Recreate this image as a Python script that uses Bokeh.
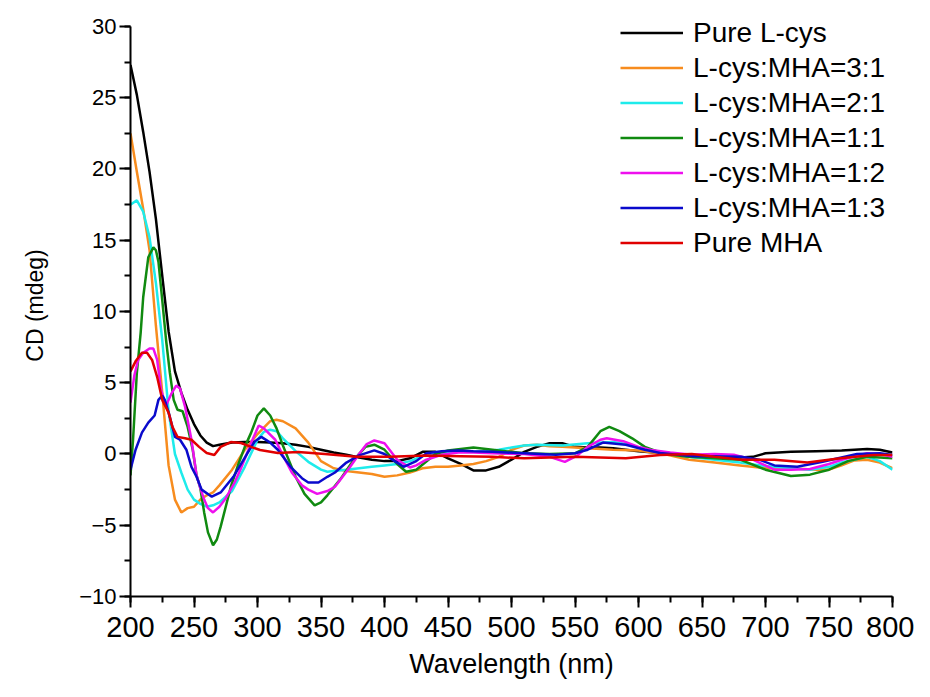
from bokeh.plotting import figure
from bokeh.models import SingleIntervalTicker, Range1d, Legend, LegendItem
from bokeh.embed import file_html
from bokeh.resources import INLINE

FONT = "'Liberation Sans', Arial, sans-serif"

# ---- data: (wavelength nm, CD mdeg) ----
pure_lcys = [(200,27.3),(205,25.2),(210,22.6),(215,19.8),(220,16.5),(225,12.5),(230,8.6),(235,5.8),
             (240,4.3),(245,3.1),(250,2.1),(255,1.3),(260,0.8),(265,0.55),(270,0.65),(280,0.8),(290,0.85),
             (300,0.85),(310,0.8),(320,0.75),(330,0.65),(340,0.5),(350,0.3),(360,0.1),(370,-0.05),(380,-0.25),
             (390,-0.4),(400,-0.5),(410,-0.5),(420,-0.3),(430,0.15),(440,0.15),(450,-0.3),(460,-0.7),(470,-1.15),
             (480,-1.15),(490,-0.9),(500,-0.4),(510,0.15),(520,0.5),(530,0.75),(540,0.75),(550,0.5),(560,0.45),
             (570,0.45),(580,0.4),(590,0.3),(600,0.2),(620,0.05),(640,-0.2),(660,-0.25),(680,-0.25),(690,-0.2),
             (700,0.05),(720,0.15),(740,0.2),(760,0.25),(780,0.35),(790,0.3),(800,0.1)]

ratio_3_1 = [(200,22.5),(205,19.8),(210,17.2),(215,14.3),(220,9.0),(225,4.3),(230,-0.8),(235,-3.2),(240,-4.1),
             (245,-3.8),(250,-3.7),(255,-3.2),(260,-2.9),(265,-2.7),(270,-2.2),(280,-1.1),(290,0.3),(300,1.4),
             (310,2.3),(315,2.4),(320,2.3),(330,1.8),(340,0.8),(350,-0.5),(360,-1.0),(370,-1.2),(380,-1.3),
             (390,-1.4),(400,-1.6),(410,-1.5),(420,-1.3),(430,-1.0),(440,-0.9),(450,-0.9),(460,-0.8),(470,-0.7),
             (480,-0.5),(490,-0.2),(500,0.3),(510,0.6),(520,0.65),(530,0.55),(540,0.5),(560,0.4),(580,0.3),
             (600,0.25),(620,0.0),(640,-0.4),(660,-0.6),(680,-0.8),(700,-1.0),(720,-1.0),(740,-1.1),(750,-1.1),
             (760,-0.8),(770,-0.45),(780,-0.4),(790,-0.6),(800,-1.0)]

ratio_2_1 = [(200,17.5),(205,17.8),(210,17.0),(215,15.2),(220,12.0),(225,8.0),(230,3.0),(235,0.0),(240,-1.3),
             (245,-2.5),(250,-3.2),(255,-3.5),(260,-3.7),(265,-3.6),(270,-3.4),(280,-2.6),(290,-0.9),(300,1.0),
             (305,1.55),(310,1.7),(315,1.6),(320,1.1),(330,0.2),(340,-0.55),(350,-1.1),(355,-1.25),(360,-1.2),
             (370,-1.1),(380,-1.0),(390,-0.9),(400,-0.8),(410,-0.7),(420,-0.5),(430,-0.15),(440,0.0),(450,0.1),
             (460,0.15),(470,0.15),(480,0.2),(490,0.3),(500,0.45),(510,0.6),(520,0.65),(540,0.6),(560,0.75),
             (580,0.85),(590,0.7),(600,0.45),(620,0.1),(640,-0.2),(660,-0.4),(680,-0.6),(700,-0.85),(720,-1.0),
             (735,-1.1),(750,-0.9),(760,-0.6),(780,-0.2),(790,-0.5),(800,-1.1)]

ratio_1_1 = [(200,-1.5),(202,1.0),(205,5.7),(208,8.5),(210,11.0),(214,13.8),(218,14.5),(220,14.3),(222,13.5),
             (225,10.8),(228,8.0),(231,5.7),(234,3.8),(237,3.1),(241,3.0),(245,1.9),(249,0.3),(252,-1.5),
             (255,-2.4),(258,-4.1),(261,-5.5),(265,-6.4),(268,-6.0),(271,-5.1),(275,-3.7),(279,-2.3),(285,-0.7),
             (290,0.5),(295,1.5),(300,2.7),(305,3.2),(310,2.7),(315,1.8),(320,0.6),(325,-0.5),(330,-1.6),
             (337,-2.8),(345,-3.6),(350,-3.4),(355,-2.9),(365,-1.8),(375,-0.5),(385,0.5),(392,0.65),(400,0.3),
             (410,-0.7),(417,-1.25),(425,-1.1),(432,-0.6),(440,0.0),(450,0.25),(460,0.35),(470,0.45),(480,0.35),
             (490,0.25),(500,0.15),(510,0.05),(530,0.0),(550,0.05),(560,0.5),(570,1.6),(577,1.9),(585,1.6),
             (595,1.1),(605,0.5),(620,0.0),(640,-0.2),(660,-0.3),(680,-0.4),(700,-1.1),(720,-1.55),(735,-1.45),
             (750,-1.1),(765,-0.5),(780,-0.2),(800,-0.3)]

ratio_1_2 = [(200,3.6),(203,5.5),(206,6.6),(210,7.1),(215,7.4),(218,7.4),(221,6.6),(224,4.5),(228,3.4),
             (232,4.2),(236,4.8),(239,4.6),(243,3.3),(248,1.0),(252,-1.5),(255,-2.4),(258,-3.2),(261,-3.8),
             (265,-4.1),(270,-3.7),(275,-3.1),(282,-2.0),(287,-1.0),(292,0.1),(297,1.2),(301,2.0),(305,1.8),
             (314,1.0),(320,-0.1),(327,-1.3),(335,-2.2),(340,-2.5),(347,-2.8),(355,-2.6),(361,-2.3),(367,-1.6),
             (373,-0.9),(380,0.0),(386,0.7),(392,0.95),(400,0.75),(410,-0.4),(420,-0.95),(425,-0.8),(433,-0.4),
             (445,-0.05),(458,0.1),(470,0.1),(485,0.05),(510,0.0),(530,-0.2),(542,-0.55),(552,-0.1),(560,0.5),
             (570,1.0),(575,1.1),(588,0.9),(600,0.5),(610,0.28),(625,0.1),(642,-0.05),(660,0.0),(675,-0.05),
             (690,-0.4),(707,-1.1),(720,-1.1),(735,-1.05),(750,-0.7),(760,-0.4),(780,0.05),(790,0.0),(800,-0.2)]

ratio_1_3 = [(200,-1.1),(204,0.3),(209,1.5),(214,2.2),(219,2.7),(222,3.8),(225,4.1),(227,3.8),(231,2.6),
             (235,1.2),(239,1.0),(244,0.3),(248,-0.9),(252,-1.6),(256,-2.5),(264,-3.0),(271,-2.7),(281,-1.6),
             (292,0.05),(298,0.9),(303,1.2),(310,0.8),(316,0.3),(326,-0.9),(335,-1.7),(340,-2.0),(348,-2.0),
             (355,-1.6),(361,-1.3),(370,-0.6),(380,-0.1),(392,0.25),(400,0.0),(408,-0.5),(415,-0.9),(425,-0.5),
             (433,0.05),(445,0.2),(458,0.25),(470,0.2),(485,0.15),(510,0.05),(535,-0.05),(550,0.05),(560,0.3),
             (572,0.8),(590,0.65),(605,0.3),(617,0.07),(642,-0.15),(660,-0.15),(681,-0.2),(695,-0.4),(707,-0.8),
             (725,-0.9),(745,-0.55),(772,0.0),(790,0.05),(800,-0.07)]

pure_mha = [(200,5.8),(204,6.5),(209,7.1),(213,7.1),(217,6.6),(221,5.4),(225,3.8),(230,2.9),(233,1.9),
            (237,1.2),(243,1.1),(248,1.0),(254,0.5),(260,0.07),(266,-0.07),(271,0.5),(279,0.84),(287,0.77),
            (295,0.5),(302,0.28),(316,0.07),(332,0.14),(353,0.0),(378,-0.2),(404,-0.2),(433,-0.1),(460,-0.15),
            (485,-0.2),(510,-0.3),(550,-0.2),(590,-0.3),(617,-0.07),(642,0.0),(660,-0.2),(681,-0.4),(707,-0.4),
            (733,-0.6),(759,-0.3),(785,-0.07),(800,-0.07)]

series_names = ["Pure L-cys", "L-cys:MHA=3:1", "L-cys:MHA=2:1", "L-cys:MHA=1:1",
                "L-cys:MHA=1:2", "L-cys:MHA=1:3", "Pure MHA"]
series_data = [pure_lcys, ratio_3_1, ratio_2_1, ratio_1_1, ratio_1_2, ratio_1_3, pure_mha]
series_colors = ["#000000", "#F78C1E", "#1EEBEB", "#108A10", "#EE10EE", "#0A0ACC", "#E00000"]

x_label = "Wavelength (nm)"
y_label = "CD (mdeg)"
x_min, x_max = 200, 800
y_min, y_max = -10, 30

# a little head-room above the y axis so the legend fits inside the frame
p = figure(width=914, height=681, output_backend="svg", toolbar_location=None,
           x_range=Range1d(x_min, x_max), y_range=Range1d(y_min, y_max + 0.84),
           min_border_left=130, min_border_right=22, min_border_top=14, min_border_bottom=85)
p.outline_line_color = None
p.grid.visible = False
p.background_fill_color = "white"

items = []
for name, data, color in zip(series_names, series_data, series_colors):
    xs = [d[0] for d in data]
    ys = [d[1] for d in data]
    r = p.line(xs, ys, line_color=color, line_width=2.5)
    items.append(LegendItem(label=name, renderers=[r]))

xa = p.xaxis[0]
xa.ticker = SingleIntervalTicker(interval=50, num_minor_ticks=2)
xa.bounds = (x_min, x_max)
ya = p.yaxis[0]
ya.ticker = SingleIntervalTicker(interval=5, num_minor_ticks=2)
ya.bounds = (y_min, y_max)
for ax in (xa, ya):
    ax.axis_line_color = "black"
    ax.axis_line_width = 2
    ax.major_tick_line_color = "black"
    ax.minor_tick_line_color = "black"
    ax.major_tick_line_width = 2
    ax.minor_tick_line_width = 2
    ax.major_tick_in = 0
    ax.major_tick_out = 11
    ax.minor_tick_in = 0
    ax.minor_tick_out = 6
    ax.major_label_text_font = FONT
    ax.axis_label_text_font = FONT
    ax.axis_label_text_font_style = "normal"
    ax.major_label_text_color = "black"
    ax.axis_label_text_color = "black"

xa.axis_label = x_label
xa.major_label_text_font_size = "29px"
xa.axis_label_text_font_size = "27px"
xa.major_label_standoff = 9
xa.axis_label_standoff = 9

ya.axis_label = y_label
ya.major_label_text_font_size = "22px"
ya.axis_label_text_font_size = "23px"
ya.major_label_standoff = 3
ya.axis_label_standoff = 28

legend = Legend(items=items, location=(490, 336), orientation="vertical",
                label_text_font=FONT, label_text_font_size="28px", label_text_color="black",
                glyph_width=63, glyph_height=35, label_height=35, label_standoff=10,
                spacing=0, padding=0, margin=0,
                border_line_color=None, background_fill_alpha=0)
p.add_layout(legend, "center")

open("out.html", "w").write(file_html(p, INLINE))
